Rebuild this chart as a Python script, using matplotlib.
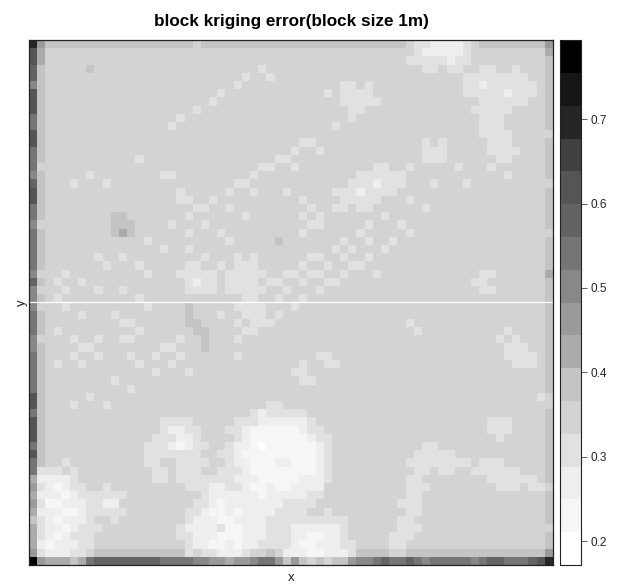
import numpy as np
import matplotlib
matplotlib.use('Agg')
import matplotlib.pyplot as plt
from matplotlib.colors import ListedColormap, BoundaryNorm

plt.rcParams['font.family'] = ['Liberation Sans', 'DejaVu Sans']

# grey bands of the key, lowest value first
band_colors = ['#ffffff', '#f6f6f6', '#eeeeee', '#e1e1e1', '#d3d3d3', '#c4c4c4', '#ababab', '#9a9a9a',
               '#888888', '#757575', '#636363', '#555555', '#404040', '#252525', '#151515', '#000000']
band_low = 0.1716
band_high = 0.7936
key_ticks = [0.2, 0.3, 0.4, 0.5, 0.6, 0.7]

n_cells = 64

# band number (hex) of the cells, by column and row
col_0 = ("dbbaa8bbb99bb999" "8abb998999998a88"
         "89998899999bb9bb" "b9b996767656667f")
col_1 = "766" + "5" * 61
col_63 = "5" * 64

# row: "first-last:band" for everything that differs from the plain band 4
row_runs = {
    0: "2-19:5 21-45:5 46:4 47-48:3 49-52:2 53:3 54:4 55-62:5 63:7",
    1: "47:3 48-52:2 53:3 63:6",
    2: "46-50:3 51:2 52-53:3",
    3: "7:5 28:3 48-49:3 51-52:3 55-56:3 59:3",
    4: "26:3 29:3 53-60:3",
    5: "25:3 38-39:3 41:3 53-61:3 55:2",
    6: "23:3 36:3 38-41:3 53-61:3 58:2",
    7: "22:3 38-42:3 55-60:3",
    8: "20:3 39-40:3 54-58:3",
    9: "18:3 39:3 55-57:3",
    10: "17:3 37:3 55-57:3",
    11: "55-58:3 63:4",
    12: "33-34:3 48:3 50:3 56-58:3",
    13: "32:3 35:3 48-50:3 56-59:3",
    14: "13:3 30-31:3 48-50:3 57-58:3",
    15: "1:4 28-29:3 32:3 42-43:3 46:3 52:3 56:3",
    16: "7:3 16-17:3 27:3 40-45:3 58:3",
    17: "5:3 9:3 25-26:3 39-45:3 42:2 49:3 53:3 63:4",
    18: "18:3 24:3 27:3 31:3 37-44:3 40:2",
    19: "18-19:3 22:3 33:3 38-42:3 46:3",
    20: "20-21:3 24:3 34:3 37-38:3 40-41:3 48:3",
    21: "10-11:5 19:3 26:3 33:3 35:3 43:3",
    22: "1:4 10-12:5 17:3 21:3 34-35:3 41:3 45:3",
    23: "10-12:5 11:6 19:3 23:3 33:3 40:3 46:3 63:4",
    24: "14:3 24:3 30:5 38:3 41:3 44:3",
    25: "16:3 19:3 37:3 39:3 43:3",
    26: "8:3 11:3 21:3 25:3 27:3 34-35:3 38:3 41:3",
    27: "9:3 13:3 19-20:3 23:3 25-27:3 33:3 36:3 39-40:3",
    28: "1:4 4:3 14:3 18-22:3 24-28:3 31-32:3 34-35:3 38:3 42:3 55-56:3 63:6",
    29: "3:3 6:3 19-22:3 20:2 24-27:3 29-30:3 33:3 36-37:3 54-55:3",
    30: "1:4 4:3 8:3 11:3 19-22:3 24-28:3 31:3 35:3 55-56:3",
    31: "3:3 13:3 26-27:3 30:3 33:3",
    32: "1:4 4:3 14:3 19:5 25-28:3 32:3",
    33: "6:3 10:3 19:5 23:3 26-28:3 30:3",
    34: "11-12:3 19-20:5 25:3 27-29:3 46:3",
    35: "3:3 13:3 20-21:5 26-27:3 47:3 58:3",
    36: "1:4 5:3 8:3 11-12:3 18:3 21:5 25:3 57:3 59:3",
    37: "6-7:3 16-17:3 21:5 58-60:3",
    38: "5:3 8:3 12:3 15:3 18:3 25:3 35-36:3 58-61:3",
    39: "3:3 6:3 13:3 17:3 33:3 36-37:3 59-61:3",
    40: "15:3 19:3 32-33:3",
    41: "10:3 33-34:3",
    42: "12:3",
    43: "7:3 62:3 63:4",
    44: "5:3 9:3 29-30:3 63:4",
    45: "27:3 28:2 29-33:3",
    46: "16-19:3 25-27:3 28-33:2 34:3 56-58:3",
    47: "16:3 17-18:2 19-20:3 24-25:3 26:2 27-32:1 33:2 34-35:3 56-58:3",
    48: "15-17:3 18-19:2 20:3 25:3 26:2 27-33:1 34:2 35-36:3 57:3",
    49: "14-16:3 17:2 18:1 19:2 20-21:3 24:3 25-26:2 27:1 28:0 29-34:1 35:2 36:3 48-49:3",
    50: "14-20:3 23-24:3 25:2 26-34:1 35:2 36:3 47-51:3",
    51: "4:3 14-15:3 18-21:3 24:3 25-26:2 27-34:1 30-31:2 35:2 36:3 46-53:3 55-57:3",
    52: "1-3:3 5:3 15-16:3 18-20:3 23-25:3 26:2 27-34:1 35:2 36:3 47-48:3 50-51:3 54-59:3",
    53: "1-4:2 5:3 15-16:3 18-24:3 25-27:2 28-32:1 33-35:2 36:3 46-47:3 56-61:3",
    54: "1:3 2:2 3:1 4:2 5-6:3 9:3 19-21:3 22-23:2 24-25:3 26:2 27-28:1 29:2 30-31:1 32-35:2 "
        "46-48:3 57-59:3 61-62:3 63:4",
    55: "1-3:2 4:1 5:2 6-11:3 21:3 22-33:2 28:1 34-35:3 46-47:3",
    56: "1:3 2-3:1 4-6:2 7-8:3 9-10:2 20-21:3 22:2 23:1 24-30:2 31-34:3 45-47:3",
    57: "1-3:2 4-5:1 6:2 7-11:3 19-20:3 21:2 22-23:1 24:2 25:1 26-29:2 30-33:3 36:3 46-47:3",
    58: "1:3 2:2 3:1 4-6:2 7:3 10:3 19:3 20-22:2 23-24:1 25-28:2 29-38:3 45-46:3",
    59: "1:3 2-3:2 4:1 5:2 6-8:3 18:3 19-22:2 23:3 24-25:1 26-28:2 29-31:3 32-37:2 38:3 45-47:3 63:4",
    60: "1:3 2:2 3:1 4:2 5-7:3 18-19:3 20-22:2 23-25:1 26-28:2 29-31:3 32-33:2 34-35:1 36-37:2 38:3 44-46:3",
    61: "1:2 2:1 3-5:2 6-7:3 19:3 20-21:2 22-23:1 24:2 25:1 26-27:2 28-31:3 32:2 33-34:1 35-37:2 "
        "38-39:3 44-45:3",
    62: "1:3 2-4:2 5-6:3 8-18:5 19:3 21-22:3 23-25:2 26:3 29:5 31-33:2 34-35:1 36-38:2 39:3 40-43:5 "
        "46-62:5 63:7",
    63: "1:7 2-4:6 5:5 6:6 7:9 8-15:a 16-19:9 20-21:8 22-23:7 24:6 25-26:7 27:8 28-29:9 30:7 31:5 32:7 "
        "33:5 34:4 35:5 36:4 37-38:5 39:7 40-41:8 42:9 43:a 44-45:9 46:a 47:9 48:8 49-53:9 54:8 55:9 "
        "56-57:a 58-60:9 61:a 62:b 63:d",
}

# turn the band numbers into kriging errors
breaks = np.linspace(band_low, band_high, len(band_colors) + 1)
mids = (breaks[:-1] + breaks[1:]) / 2

levels = np.full((n_cells, n_cells), 4)
levels[:, 1] = [int(ch, 16) for ch in col_1]
levels[:, 63] = [int(ch, 16) for ch in col_63]
levels[:, 0] = [int(ch, 16) for ch in col_0]
for row, runs in row_runs.items():
    for run in runs.split():
        cols, band = run.split(':')
        first, _, last = cols.partition('-')
        levels[row, int(first):int(last or first) + 1] = int(band, 16)
errors = mids[levels]

cmap = ListedColormap(band_colors)
norm = BoundaryNorm(breaks, cmap.N)

fig = plt.figure(figsize=(6.17, 5.84), dpi=100)
W, H = 617, 584
ax = fig.add_axes([29.3 / W, 1 - 565 / H, 523.4 / W, 524.7 / H])
im = ax.imshow(errors, cmap=cmap, norm=norm, aspect='auto', interpolation='nearest',
               extent=(0, n_cells, n_cells, 0))
ax.axhline(31.95, color='white', lw=0.9)
ax.set_xticks([])
ax.set_yticks([])
ax.set_xlabel('x', fontsize=9.5, labelpad=5, color='#222222')
ax.set_ylabel('y', fontsize=9.5, labelpad=1, color='#222222')
ax.set_title('block kriging error(block size 1m)', fontsize=12.3, fontweight='bold', pad=10)
for spine in ax.spines.values():
    spine.set_linewidth(0.9)
    spine.set_color('#222222')

cax = fig.add_axes([559.5 / W, 1 - 565 / H, 21.5 / W, 524.7 / H])
cbar = fig.colorbar(im, cax=cax, ticks=key_ticks, spacing='proportional')
cbar.ax.tick_params(length=4, width=0.6, labelsize=8.5, pad=3, color='#444444', labelcolor='#222222')
cbar.ax.minorticks_off()
cbar.outline.set_linewidth(0.8)
cbar.outline.set_edgecolor('#222222')

fig.savefig('out.png', dpi=100)
